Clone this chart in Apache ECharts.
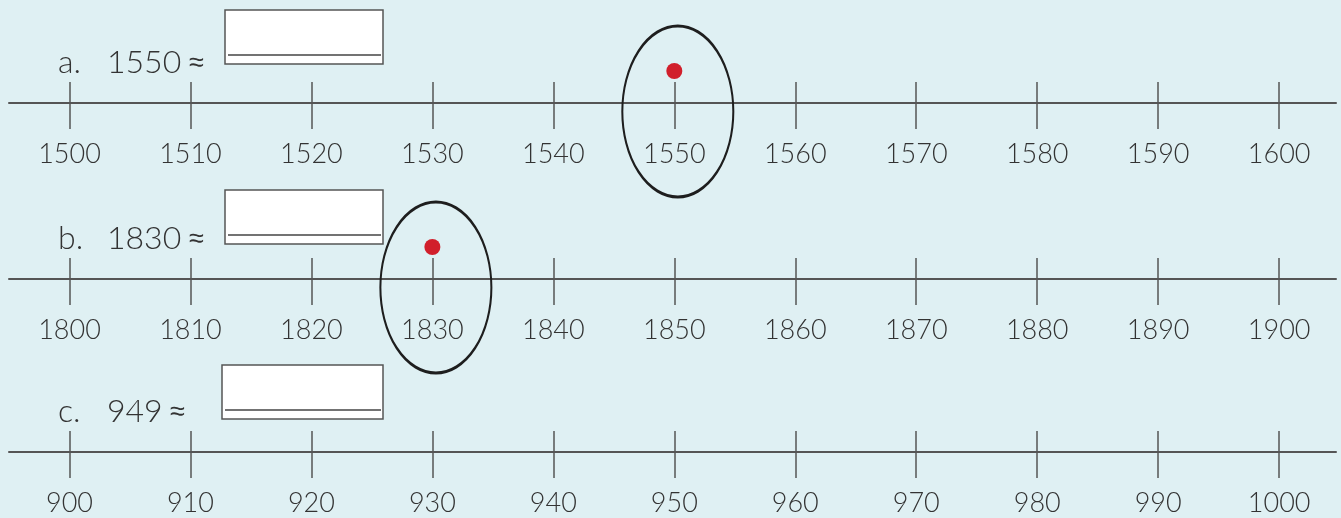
<!DOCTYPE html>
<html>
<head>
<meta charset="utf-8">
<style>
  html, body { margin: 0; padding: 0; background: #dff0f3; }
  #main { width: 1341px; height: 518px; }
</style>
<script src="https://cdn.jsdelivr.net/npm/echarts@6/dist/echarts.min.js"></script>
</head>
<body>
<div id="main"></div>
<script>
  // data
  var rowLetters = ['a.', 'b.', 'c.'];
  var rowQuestions = ['1550', '1830', '949'];
  var ticksA = [1500, 1510, 1520, 1530, 1540, 1550, 1560, 1570, 1580, 1590, 1600];
  var ticksB = [1800, 1810, 1820, 1830, 1840, 1850, 1860, 1870, 1880, 1890, 1900];
  var ticksC = [900, 910, 920, 930, 940, 950, 960, 970, 980, 990, 1000];
  var rowTicks = [ticksA, ticksB, ticksC];
  var markedValues = [1550, 1830, null];

  // layout
  var lineY = [103, 279, 452];
  var boxLeft = [225, 225, 222];
  var boxTop = [10, 190, 365];
  var approxLeft = [189, 189, 170];
  var font = 'Lato, "Noto Sans", sans-serif';
  var axisColor = '#555';

  var grids = [], xAxes = [], yAxes = [], series = [], graphics = [];

  rowTicks.forEach(function (ticks, i) {
    var min = ticks[0] - 5;
    var max = ticks[ticks.length - 1] + 4.7;
    grids.push({ left: 9, right: 5, top: lineY[i] - 90, height: 90 });
    // main axis: line, lower ticks, labels
    xAxes.push({
      type: 'value', gridIndex: i, min: min, max: max, position: 'bottom',
      splitLine: { show: false },
      axisLine: { lineStyle: { color: axisColor, width: 2 } },
      axisTick: { customValues: ticks, length: 26, lineStyle: { color: axisColor, width: 1.5 } },
      axisLabel: {
        customValues: ticks, margin: 38, color: '#333', fontSize: 27,
        fontFamily: font, fontWeight: 300,
        formatter: function (v) { return String(v); }
      }
    });
    // second axis on same line, only the upper part of the ticks
    xAxes.push({
      type: 'value', gridIndex: i, min: min, max: max, position: 'bottom',
      splitLine: { show: false },
      axisLine: { show: false },
      axisLabel: { show: false },
      axisTick: { customValues: ticks, inside: true, length: 21, lineStyle: { color: axisColor, width: 1.5 } }
    });
    yAxes.push({ type: 'value', gridIndex: i, min: 0, max: 1, show: false });

    if (markedValues[i] != null) {
      series.push({
        type: 'scatter', xAxisIndex: i * 2, yAxisIndex: i, silent: true,
        data: [[markedValues[i], 0]],
        symbol: 'circle', symbolSize: 16, symbolOffset: [0, -32],
        itemStyle: { color: '#d11f2b', opacity: 1 }, z: 5
      });
      series.push({
        type: 'scatter', xAxisIndex: i * 2, yAxisIndex: i, silent: true,
        data: [[markedValues[i], 0]],
        symbol: 'circle', symbolSize: [111, 171], symbolOffset: [3.5, 8.5],
        itemStyle: { color: 'rgba(0,0,0,0)', borderColor: '#1e1e1e', borderWidth: 2.5, opacity: 1 }, z: 4
      });
    }

    // question text and answer box
    graphics.push({
      type: 'text', left: 58, top: lineY[i] - 56,
      style: { text: rowLetters[i], font: '300 32px ' + font, fill: '#333' }
    });
    graphics.push({
      type: 'text', left: 107, top: lineY[i] - 56,
      style: { text: rowQuestions[i], font: '300 32px ' + font, fill: '#333' }
    });
    graphics.push({
      type: 'text', left: approxLeft[i], top: lineY[i] - 53,
      style: { text: '\u2248', font: '300 27px "DejaVu Sans", sans-serif', fill: '#333' }
    });
    graphics.push({
      type: 'rect', shape: { x: boxLeft[i], y: boxTop[i], width: 383 - boxLeft[i], height: 54 },
      style: { fill: '#fff', stroke: axisColor, lineWidth: 1.5 }
    });
    graphics.push({
      type: 'line', shape: { x1: boxLeft[i] + 3, y1: boxTop[i] + 45, x2: 381, y2: boxTop[i] + 45 },
      style: { stroke: '#444', lineWidth: 1.5 }
    });
  });

  var chart = echarts.init(document.getElementById('main'));
  chart.setOption({
    backgroundColor: '#dff0f3',
    animation: false,
    grid: grids,
    xAxis: xAxes,
    yAxis: yAxes,
    series: series,
    graphic: graphics
  });
</script>
</body>
</html>
